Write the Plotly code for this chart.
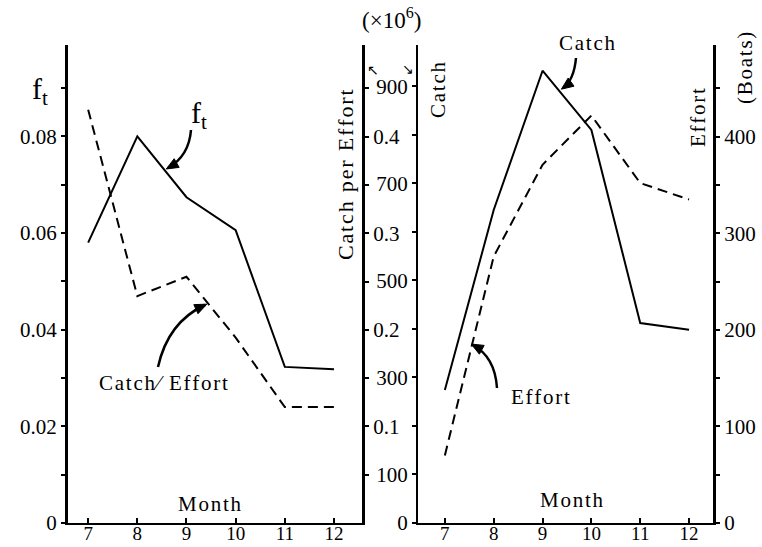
import plotly.graph_objects as go

W, H = 762, 547

# ---- data ----
months = [7, 8, 9, 10, 11, 12]
ft_values = [0.058, 0.080, 0.0674, 0.0606, 0.0323, 0.0318]
cpe_values = [0.428, 0.235, 0.255, 0.192, 0.120, 0.120]
catch_values = [274, 645, 932, 810, 412, 398]
effort_values = [70, 276, 371, 422, 352, 335]

ft_ticks = [0, 0.02, 0.04, 0.06, 0.08]
ft_ticktext = ["0", "0.02", "0.04", "0.06", "0.08"]
ft_minor = [0.01, 0.03, 0.05, 0.07, 0.09]
cpe_ticks = [0.1, 0.2, 0.3, 0.4]
cpe_ticktext = ["0.1", "0.2", "0.3", "0.4"]
cpe_minor = [0.05, 0.15, 0.25, 0.35, 0.45]
catch_ticks = [0, 100, 300, 500, 700, 900]
catch_ticktext = ["0", "100", "300", "500", "700", "900"]
catch_minor = [200, 400, 600, 800]
effort_ticks = [0, 100, 200, 300, 400]
effort_ticktext = ["0", "100", "200", "300", "400"]
effort_minor = [50, 150, 250, 350, 450]

FONT = "Liberation Serif"
TF = dict(family=FONT, size=21, color="black")
XTF = dict(family=FONT, size=19, color="black")


def px(x):
    return x / W


def py(y):
    return 1 - y / H


def spaced(s):
    return "\u200a".join(s)


fig = go.Figure()
fig.add_trace(go.Scatter(x=months, y=ft_values, xaxis="x", yaxis="y", mode="lines",
                         line=dict(color="black", width=2)))
fig.add_trace(go.Scatter(x=months, y=cpe_values, xaxis="x", yaxis="y2", mode="lines",
                         line=dict(color="black", width=2, dash="10px,6px")))
fig.add_trace(go.Scatter(x=months, y=catch_values, xaxis="x2", yaxis="y3", mode="lines",
                         line=dict(color="black", width=2)))
fig.add_trace(go.Scatter(x=months, y=effort_values, xaxis="x2", yaxis="y4", mode="lines",
                         line=dict(color="black", width=2, dash="10px,6px")))

ydom = [1 - 523 / H, 1 - 45 / H]
common_x = dict(tickvals=months, ticks="inside", ticklen=5, tickwidth=2, tickcolor="black",
                showline=True, linewidth=2, linecolor="black", showgrid=False, zeroline=False,
                tickfont=XTF, automargin=False, fixedrange=True, ticklabelstandoff=-8)
common_y = dict(domain=ydom, ticks="outside", ticklen=4, tickwidth=2, tickcolor="black",
                showline=True, linecolor="black", showgrid=False, zeroline=False,
                tickfont=TF, automargin=False, fixedrange=True)


def minor(vals):
    return dict(tickmode="array", tickvals=vals, ticks="outside", ticklen=4, tickwidth=2,
                tickcolor="black", showgrid=False)


fig.update_layout(
    template="none",
    width=W, height=H, autosize=False,
    margin=dict(l=0, r=0, t=0, b=0),
    paper_bgcolor="white", plot_bgcolor="white",
    showlegend=False,
    xaxis=dict(domain=[px(68), px(362)], range=[6.59, 12.57], anchor="y", **common_x),
    yaxis=dict(range=[0, 0.0989], anchor="x", side="left", tickvals=ft_ticks,
               ticktext=ft_ticktext, minor=minor(ft_minor), linewidth=3, **common_y),
    yaxis2=dict(range=[0, 0.495], anchor="x", overlaying="y", side="right",
                tickvals=cpe_ticks, ticktext=cpe_ticktext, minor=minor(cpe_minor),
                linewidth=3, **common_y),
    xaxis2=dict(domain=[px(418), px(713)], range=[6.45, 12.49], anchor="y3", **common_x),
    yaxis3=dict(range=[0, 985], anchor="x2", side="left", tickvals=catch_ticks,
                ticktext=catch_ticktext, minor=minor(catch_minor), linewidth=2, **common_y),
    yaxis4=dict(range=[0, 495], anchor="x2", overlaying="y3", side="right",
                tickvals=effort_ticks, ticktext=effort_ticktext, minor=minor(effort_minor),
                linewidth=3, **common_y),
)

ann = []


def text(x, y, s, size=19, angle=0):
    ann.append(dict(x=px(x), y=py(y), xref="paper", yref="paper", text=s, showarrow=False,
                    font=dict(family=FONT, size=size, color="black"), textangle=angle,
                    xanchor="center", yanchor="middle"))


text(40, 91, "f<sub>t</sub>", 30)
text(199, 115, "f<sub>t</sub>", 30)
text(163, 383, spaced("Catch⁄ Effort"), 21)
text(210, 504, spaced("Month"), 21)
text(572, 500, spaced("Month"), 21)
text(345, 175, spaced("Catch per Effort"), 22, -90)
text(391, 18, "(×10<sup>6</sup>)", 23)
text(438, 90, spaced("Catch"), 21, -90)
text(587, 43, spaced("Catch"), 21)
text(698, 118, spaced("Effort"), 21, -90)
text(745, 68, spaced("(Boats)"), 21, -90)
text(540, 397, spaced("Effort"), 21)
text(373, 70, "↖", 14)
text(408, 69, "↘", 14)

shapes = []


def curve_arrow(x0, y0, cx, cy, x1, y1):
    shapes.append(dict(type="path", xref="paper", yref="paper",
                       path=f"M {px(x0)},{py(y0)} Q {px(cx)},{py(cy)} {px(x1)},{py(y1)}",
                       line=dict(color="black", width=2.5)))
    dx, dy = x1 - cx, y1 - cy
    n = (dx * dx + dy * dy) ** 0.5
    ux, uy = dx / n, dy / n
    bx, by = x1 - ux * 10, y1 - uy * 10
    qx, qy = -uy * 5, ux * 5
    pts = [(x1 + ux * 2, y1 + uy * 2), (bx + qx, by + qy), (bx - qx, by - qy)]
    path = "M " + " L ".join(f"{px(a)},{py(b)}" for a, b in pts) + " Z"
    shapes.append(dict(type="path", xref="paper", yref="paper", path=path,
                       fillcolor="black", line=dict(color="black", width=1)))


curve_arrow(191, 130, 189, 156, 168, 168)
curve_arrow(158, 367, 168, 322, 205, 305)
curve_arrow(576, 58, 574, 80, 563, 88)
curve_arrow(497, 388, 495, 357, 473, 345)

fig.update_layout(annotations=ann, shapes=shapes)
fig.write_html("out.html")
